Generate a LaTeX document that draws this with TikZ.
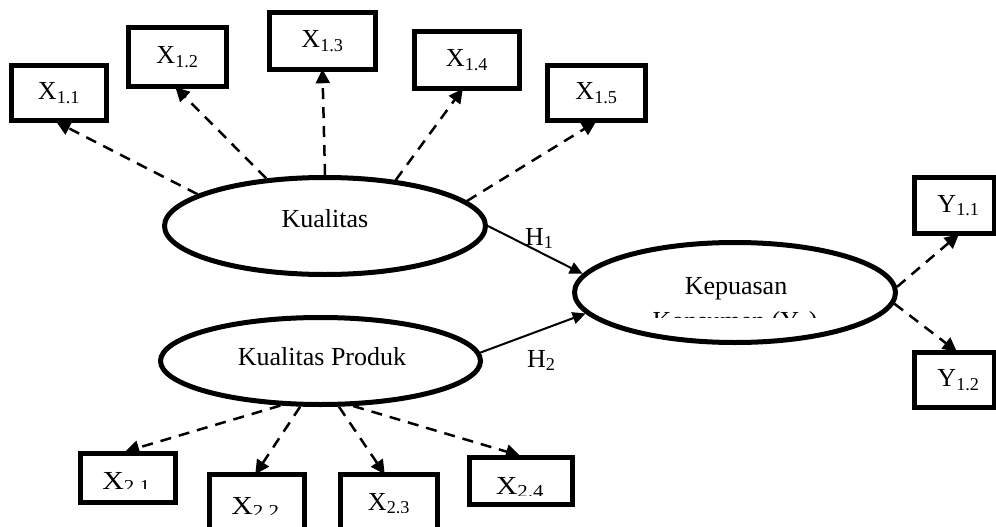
\documentclass[tikz,border=0pt]{standalone}
\usepackage{fontspec}
\setmainfont{Liberation Serif}
\usepackage{graphicx}
\usetikzlibrary{shapes.geometric,arrows.meta,backgrounds}
\tikzset{
  basefont/.style={font=\fontsize{26}{31}\selectfont},
  indbox/.style={basefont, draw, line width=5.5pt, fill=white, inner sep=0pt},
  latent/.style={draw, ellipse, line width=5pt, inner sep=0pt},
  lbl/.style={basefont, inner sep=0pt},
  loadarrow/.style={line width=2.5pt, dash pattern=on 11pt off 8pt, shorten >=-3pt,
    -{Triangle[length=14pt,width=14pt]}},
  patharrow/.style={line width=2pt, -{Triangle[length=13pt,width=12pt]}},
}
\begin{document}
\begin{tikzpicture}[x=1pt,y=-1pt]
\useasboundingbox (0,0) rectangle (996,527);
\clip (0,0) rectangle (996,527);

% latent variables
\node[latent, minimum width=321pt, minimum height=97pt] (kq) at (325,226) {};
\node[latent, minimum width=321pt, minimum height=100pt] (kk) at (735,292.5) {};
\node[latent, minimum width=320pt, minimum height=87pt] (kp) at (320.5,361) {};

\node[lbl, anchor=base] (kqt) at (325,227) {Kualitas};
\node[lbl, anchor=base] (kkt) at (736,294) {Kepuasan};
\begin{scope}
  \clip (600,300) rectangle (880,317);
  \node[lbl, anchor=base] (kkt2) at (735,329) {Konsumen (Y\textsubscript{1})};
\end{scope}
\node[lbl, anchor=base] (kpt) at (322,365) {Kualitas Produk};

% indicators
\node[indbox, minimum width=95pt, minimum height=55pt] (x11) at (59,93) {X\textsubscript{1.1}};
\node[indbox, minimum width=98pt, minimum height=59pt] (x12) at (177.5,57) {X\textsubscript{1.2}};
\node[indbox, minimum width=106pt, minimum height=57pt] (x13) at (322.5,41) {X\textsubscript{1.3}};
\node[indbox, minimum width=105pt, minimum height=57pt] (x14) at (467,60) {X\textsubscript{1.4}};
\node[indbox, minimum width=98pt, minimum height=55pt] (x15) at (596.5,93) {X\textsubscript{1.5}};
\node[indbox, minimum width=80pt, minimum height=56pt, text width=80pt, align=center] (y11) at (954.5,205.5) {\hspace*{8pt}Y\textsubscript{1.1}};
\node[indbox, minimum width=80pt, minimum height=55pt, text width=80pt, align=center] (y12) at (954.5,380) {\hspace*{8pt}Y\textsubscript{1.2}};

\node[indbox, minimum width=95pt, minimum height=49pt] (x21) at (128,478) {};
\node[indbox, minimum width=95pt, minimum height=55pt] (x22) at (257,502) {};
\node[indbox, minimum width=97pt, minimum height=55pt] (x23) at (389,502) {};
\node[indbox, minimum width=103pt, minimum height=47pt] (x24) at (521,481) {};

\begin{scope}
  \clip (80,455) rectangle (176,488);
  \node[lbl, anchor=base] (x21t) at (126.5,489) {\scalebox{1.15}[1]{X\textsubscript{2.1}}};
\end{scope}
\begin{scope}
  \clip (210,476) rectangle (305,514);
  \node[lbl, anchor=base] (x22t) at (255.5,514) {\scalebox{1.15}[1]{X\textsubscript{2.2}}};
\end{scope}
\begin{scope}
  \clip (341,476) rectangle (437,512);
  \node[lbl, anchor=base] (x23t) at (389,510) {X\textsubscript{2.3}};
\end{scope}
\begin{scope}
  \clip (470,458) rectangle (572,495);
  \node[lbl, anchor=base] (x24t) at (520,494) {\scalebox{1.15}[1]{X\textsubscript{2.4}}};
\end{scope}

% path labels
\node[lbl, anchor=base west] (h1) at (525,245) {H\textsubscript{1}};
\node[lbl, anchor=base west] (h2) at (527,367) {H\textsubscript{2}};

% connectors (behind the boxes)
\begin{scope}[on background layer]
  \fill[white] (0,0) rectangle (996,527);
  \draw[loadarrow] (kq.166) -- (x11.south);
  \draw[loadarrow] (kq.141.5) -- (x12.south);
  \draw[loadarrow] (kq.90) -- (x13.south);
  \draw[loadarrow] (kq.33) -- ([xshift=-6pt]x14.south);
  \draw[loadarrow] (kq.10.6) -- ([xshift=-3pt]x15.south);
  \draw[loadarrow] (kk.2.5) -- ([xshift=2pt]y11.south);
  \draw[loadarrow] (kk.356.4) -- (y12.north);
  \draw[loadarrow] (kp.228) -- (x21.north);
  \draw[loadarrow] (kp.246.8) -- (x22.north);
  \draw[loadarrow] (kp.292) -- ([xshift=-6pt]x23.north);
  \draw[loadarrow] (kp.306) -- ([xshift=-4pt]x24.north);
  \draw[patharrow] (kq.east) -- (kk.173.6);
  \draw[patharrow] (kp.3.2) -- (kk.188.7);
\end{scope}
\end{tikzpicture}
\end{document}
